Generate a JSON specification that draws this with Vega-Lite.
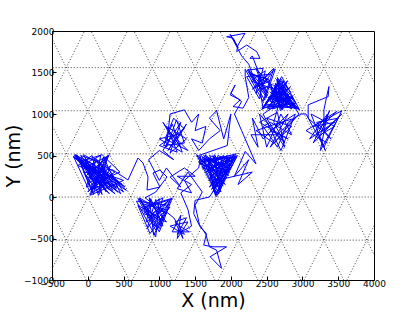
{
"$schema": "https://vega.github.io/schema/vega-lite/v6.json",
"width": 322, "height": 249,
"autosize": {"type": "none"},
"padding": {"left": 52, "top": 31, "right": 41, "bottom": 32},
"background": "white",
"config": {"view": {"stroke": "black", "strokeWidth": 1}, "font": "DejaVu Sans",
 "axis": {"grid": false, "domainColor": "black", "tickColor": "black", "labelColor": "black", "titleColor": "black", "labelFontSize": 9, "titleFontSize": 19, "titleFontWeight": "normal", "tickSize": -4, "labelPadding": 3, "labelFlush": false, "labelOverlap": false, "format": "d"}},
"datasets": {
"grid": [
{"g":"h-1","x":-700,"y":-519.6},{"g":"h-1","x":4200,"y":-519.6},
{"g":"h0","x":-700,"y":0},{"g":"h0","x":4200,"y":0},
{"g":"h1","x":-700,"y":519.6},{"g":"h1","x":4200,"y":519.6},
{"g":"h2","x":-700,"y":1039.2},{"g":"h2","x":4200,"y":1039.2},
{"g":"h3","x":-700,"y":1558.8},{"g":"h3","x":4200,"y":1558.8},
{"g":"p-2","x":-1835,"y":-1100},{"g":"p-2","x":12,"y":2100},
{"g":"p-1","x":-1235,"y":-1100},{"g":"p-1","x":612,"y":2100},
{"g":"p0","x":-635,"y":-1100},{"g":"p0","x":1212,"y":2100},
{"g":"p1","x":-35,"y":-1100},{"g":"p1","x":1812,"y":2100},
{"g":"p2","x":565,"y":-1100},{"g":"p2","x":2412,"y":2100},
{"g":"p3","x":1165,"y":-1100},{"g":"p3","x":3012,"y":2100},
{"g":"p4","x":1765,"y":-1100},{"g":"p4","x":3612,"y":2100},
{"g":"p5","x":2365,"y":-1100},{"g":"p5","x":4212,"y":2100},
{"g":"p6","x":2965,"y":-1100},{"g":"p6","x":4812,"y":2100},
{"g":"p7","x":3565,"y":-1100},{"g":"p7","x":5412,"y":2100},
{"g":"n-1","x":35,"y":-1100},{"g":"n-1","x":-1812,"y":2100},
{"g":"n0","x":635,"y":-1100},{"g":"n0","x":-1212,"y":2100},
{"g":"n1","x":1235,"y":-1100},{"g":"n1","x":-612,"y":2100},
{"g":"n2","x":1835,"y":-1100},{"g":"n2","x":-12,"y":2100},
{"g":"n3","x":2435,"y":-1100},{"g":"n3","x":588,"y":2100},
{"g":"n4","x":3035,"y":-1100},{"g":"n4","x":1188,"y":2100},
{"g":"n5","x":3635,"y":-1100},{"g":"n5","x":1788,"y":2100},
{"g":"n6","x":4235,"y":-1100},{"g":"n6","x":2388,"y":2100},
{"g":"n7","x":4835,"y":-1100},{"g":"n7","x":2988,"y":2100},
{"g":"n8","x":5435,"y":-1100},{"g":"n8","x":3588,"y":2100}
],
"traj": [
{"x":150,"y":300},{"x":-100,"y":480},{"x":120,"y":120},{"x":-50,"y":350},{"x":250,"y":480},{"x":60,"y":60},{"x":-150,"y":500},{"x":200,"y":200},{"x":300,"y":90},{"x":0,"y":420},{"x":180,"y":500},{"x":80,"y":30},{"x":-120,"y":460},{"x":350,"y":150},{"x":100,"y":380},{"x":-180,"y":510},{"x":230,"y":100},{"x":40,"y":250},{"x":280,"y":500},{"x":150,"y":50},{"x":-60,"y":300},{"x":320,"y":260},{"x":20,"y":80},{"x":-200,"y":490},{"x":400,"y":100},{"x":120,"y":460},{"x":10,"y":150},{"x":260,"y":380},{"x":500,"y":60},{"x":-80,"y":420},{"x":200,"y":30},{"x":60,"y":500},{"x":-140,"y":380},{"x":340,"y":200},{"x":80,"y":100},{"x":300,"y":510},{"x":-30,"y":250},{"x":420,"y":120},{"x":160,"y":420},{"x":-100,"y":500},{"x":250,"y":150},{"x":40,"y":40},{"x":180,"y":350},{"x":540,"y":80},{"x":-170,"y":470},{"x":300,"y":40},{"x":100,"y":250},{"x":-60,"y":510},{"x":380,"y":300},{"x":50,"y":120},{"x":220,"y":480},{"x":460,"y":40},{"x":0,"y":350},{"x":150,"y":100},{"x":280,"y":300},{"x":520,"y":120},
{"x":-190,"y":500},{"x":350,"y":80},{"x":100,"y":470},{"x":-20,"y":120},{"x":450,"y":300},{"x":200,"y":510},{"x":-120,"y":420},{"x":380,"y":40},{"x":120,"y":200},{"x":-160,"y":510},{"x":260,"y":60},{"x":60,"y":400},{"x":480,"y":150},{"x":-40,"y":460},{"x":150,"y":20},{"x":320,"y":380},{"x":0,"y":60},{"x":220,"y":250},{"x":-200,"y":480},{"x":420,"y":60},{"x":90,"y":330},{"x":270,"y":490},{"x":30,"y":20},{"x":500,"y":200},{"x":-90,"y":380},
{"x":352,"y":325},{"x":562,"y":205},{"x":702,"y":470},{"x":772,"y":410},{"x":842,"y":241},{"x":828,"y":84},{"x":1009,"y":120},{"x":911,"y":289},{"x":1009,"y":325},{"x":1107,"y":241},{"x":950,"y":60},{"x":800,"y":-10},
{"x":1100,"y":-200},{"x":700,"y":-20},{"x":950,"y":-400},{"x":1150,"y":-30},{"x":750,"y":-150},{"x":1050,"y":-350},{"x":880,"y":-20},{"x":820,"y":-300},{"x":1120,"y":-100},{"x":680,"y":-50},{"x":950,"y":-480},{"x":1000,"y":-20},{"x":780,"y":-200},{"x":1100,"y":-300},{"x":900,"y":-100},{"x":720,"y":-10},{"x":1000,"y":-420},{"x":1180,"y":-10},{"x":850,"y":-250},{"x":1080,"y":-150},{"x":760,"y":-80},{"x":930,"y":-350},{"x":1050,"y":-10},{"x":800,"y":-130},{"x":980,"y":-250},{"x":1150,"y":-120},{"x":870,"y":-440},{"x":700,"y":-100},{"x":1060,"y":-280},{"x":950,"y":-30},{"x":830,"y":-380},{"x":1120,"y":-50},{"x":900,"y":-200},
{"x":720,"y":-30},{"x":1000,"y":-380},{"x":1160,"y":-20},{"x":780,"y":-120},{"x":1040,"y":-320},{"x":860,"y":-10},{"x":920,"y":-460},{"x":1100,"y":-180},
{"x":1200,"y":-250},{"x":1350,"y":-450},{"x":1150,"y":-350},{"x":1400,"y":-300},{"x":1250,"y":-500},{"x":1300,"y":-220},{"x":1180,"y":-420},{"x":1420,"y":-420},{"x":1280,"y":-350},{"x":1330,"y":-500},{"x":1220,"y":-300},{"x":1380,"y":-250},{"x":1250,"y":-450},
{"x":1450,"y":-350},{"x":1400,"y":-150},{"x":1300,"y":50},{"x":1450,"y":150},{"x":1250,"y":250},{"x":1500,"y":250},{"x":1350,"y":350},{"x":1150,"y":240},{"x":1300,"y":120},{"x":1100,"y":350},{"x":1000,"y":200},{"x":850,"y":450},{"x":1000,"y":560},{"x":1200,"y":450},
{"x":1050,"y":560},{"x":1300,"y":900},{"x":1150,"y":530},{"x":1380,"y":700},{"x":1100,"y":850},{"x":1250,"y":540},{"x":1000,"y":620},{"x":1350,"y":820},{"x":1200,"y":950},{"x":1080,"y":700},{"x":1400,"y":560},{"x":1150,"y":780},{"x":1300,"y":600},{"x":1050,"y":900},{"x":1220,"y":650},{"x":1380,"y":880},{"x":1120,"y":560},{"x":1280,"y":760},{"x":1000,"y":700},{"x":1320,"y":540},{"x":1180,"y":880},{"x":1060,"y":620},{"x":1350,"y":650},{"x":1240,"y":930},{"x":1100,"y":600},
{"x":1150,"y":1000},{"x":1350,"y":1050},{"x":1450,"y":900},{"x":1550,"y":1000},{"x":1500,"y":800},{"x":1650,"y":850},{"x":1600,"y":650},{"x":1450,"y":700},{"x":1550,"y":560},{"x":1700,"y":700},{"x":1850,"y":800},{"x":1700,"y":950},{"x":1800,"y":1040},{"x":1900,"y":700},{"x":2000,"y":1000},{"x":1950,"y":620},
{"x":1550,"y":500},{"x":1800,"y":50},{"x":2050,"y":500},{"x":1650,"y":300},{"x":1950,"y":450},{"x":1700,"y":120},{"x":2000,"y":350},{"x":1600,"y":480},{"x":1850,"y":100},{"x":1750,"y":500},{"x":1900,"y":250},{"x":1550,"y":420},{"x":2080,"y":480},{"x":1780,"y":30},{"x":1680,"y":400},{"x":1980,"y":300},{"x":1620,"y":500},{"x":1880,"y":180},{"x":1720,"y":250},{"x":2030,"y":420},{"x":1820,"y":500},{"x":1700,"y":200},{"x":1950,"y":500},{"x":1600,"y":350},{"x":1850,"y":300},{"x":1760,"y":80},{"x":2000,"y":480},{"x":1660,"y":450},{"x":1920,"y":150},
{"x":1520,"y":510},{"x":1810,"y":20},{"x":2090,"y":500},{"x":1680,"y":330},{"x":1960,"y":480},{"x":1730,"y":90},{"x":2020,"y":380},{"x":1590,"y":460},{"x":1860,"y":60},{"x":1770,"y":510},{"x":1930,"y":280},{"x":1570,"y":400},{"x":2070,"y":520},{"x":1790,"y":10},{"x":1690,"y":420},{"x":1970,"y":260},{"x":1640,"y":510},{"x":1890,"y":130},{"x":1710,"y":300},{"x":2050,"y":460},
{"x":1700,"y":0},{"x":1500,"y":-40},{"x":1480,"y":-200},{"x":1570,"y":-360},{"x":1660,"y":-440},{"x":1620,"y":-580},{"x":1750,"y":-600},{"x":1940,"y":-600},{"x":1710,"y":-720},{"x":1870,"y":-860},{"x":1800,"y":-640},{"x":1700,"y":-600},{"x":1650,"y":-450},{"x":1560,"y":-330},{"x":1500,"y":-100},{"x":1600,"y":60},
{"x":1400,"y":300},{"x":1250,"y":100},{"x":1450,"y":50},{"x":1350,"y":200},{"x":1550,"y":350},
{"x":1580,"y":500},{"x":1800,"y":350},{"x":2060,"y":470},{"x":1740,"y":160},{"x":1900,"y":500},{"x":1640,"y":380},{"x":1830,"y":40},{"x":1990,"y":400},{"x":1700,"y":500},{"x":1870,"y":250},{"x":1560,"y":460},{"x":1780,"y":300},{"x":2040,"y":510},{"x":1820,"y":120},{"x":1680,"y":480},{"x":1950,"y":350},{"x":1750,"y":60},{"x":1900,"y":400},{"x":1620,"y":440},{"x":2000,"y":500},{"x":1800,"y":200},
{"x":2300,"y":300},{"x":2100,"y":150},{"x":2250,"y":450},{"x":2050,"y":250},{"x":2200,"y":550},{"x":2350,"y":400},
{"x":2150,"y":800},{"x":2050,"y":1000},{"x":2150,"y":1150},{"x":2000,"y":1250},{"x":2060,"y":1350},{"x":1990,"y":1230},{"x":2130,"y":1170},{"x":2030,"y":1090},{"x":2170,"y":1070},{"x":2250,"y":1200},{"x":2200,"y":1450},
{"x":2200,"y":1540},{"x":2450,"y":1150},{"x":2600,"y":1550},{"x":2300,"y":1300},{"x":2550,"y":1400},{"x":2250,"y":1500},{"x":2500,"y":1200},{"x":2350,"y":1550},{"x":2600,"y":1300},{"x":2280,"y":1400},{"x":2480,"y":1520},{"x":2400,"y":1180},{"x":2220,"y":1450},{"x":2560,"y":1480},{"x":2350,"y":1250},{"x":2450,"y":1550},
{"x":2230,"y":1530},{"x":2470,"y":1170},{"x":2620,"y":1540},{"x":2320,"y":1320},{"x":2530,"y":1420},{"x":2270,"y":1480},{"x":2510,"y":1220},{"x":2370,"y":1540},
{"x":2300,"y":1700},{"x":2267,"y":1671},{"x":2407,"y":1671},{"x":2361,"y":1751},{"x":2221,"y":1831},{"x":2081,"y":1751},{"x":2099,"y":1831},{"x":2197,"y":1972},{"x":1941,"y":1931},{"x":2034,"y":1912},{"x":2100,"y":1800},{"x":1990,"y":1960},{"x":2150,"y":1700},{"x":2250,"y":1600},
{"x":2300,"y":1480},{"x":2580,"y":1350},{"x":2420,"y":1300},{"x":2240,"y":1540},{"x":2520,"y":1250},{"x":2380,"y":1450},
{"x":2450,"y":1060},{"x":2700,"y":1400},{"x":2900,"y":1060},{"x":2600,"y":1250},{"x":2800,"y":1300},{"x":2500,"y":1080},{"x":2750,"y":1100},{"x":2650,"y":1380},{"x":2550,"y":1150},{"x":2850,"y":1200},{"x":2700,"y":1060},{"x":2600,"y":1350},{"x":2920,"y":1080},{"x":2480,"y":1120},{"x":2780,"y":1380},{"x":2680,"y":1200},{"x":2880,"y":1100},{"x":2560,"y":1300},{"x":2720,"y":1050},{"x":2640,"y":1420},{"x":2820,"y":1150},{"x":2520,"y":1200},{"x":2760,"y":1250},{"x":2900,"y":1150},{"x":2580,"y":1060},{"x":2700,"y":1320},{"x":2850,"y":1060},{"x":2620,"y":1180},{"x":2740,"y":1400},{"x":2500,"y":1150},
{"x":2430,"y":1050},{"x":2710,"y":1450},{"x":2960,"y":1050},{"x":2610,"y":1230},{"x":2830,"y":1320},{"x":2510,"y":1060},{"x":2770,"y":1120},{"x":2660,"y":1400},{"x":2570,"y":1130},{"x":2870,"y":1220},{"x":2690,"y":1040},{"x":2620,"y":1370},{"x":2940,"y":1070},{"x":2470,"y":1100},{"x":2790,"y":1400},{"x":2670,"y":1220},{"x":2890,"y":1120},{"x":2550,"y":1330},{"x":2730,"y":1060},{"x":2650,"y":1440},{"x":2810,"y":1170},{"x":2530,"y":1180},{"x":2750,"y":1270},{"x":2910,"y":1130},{"x":2590,"y":1080},
{"x":2450,"y":1000},{"x":2700,"y":560},{"x":2900,"y":1000},{"x":2550,"y":800},{"x":2800,"y":700},{"x":2400,"y":900},{"x":2650,"y":1020},{"x":2750,"y":600},{"x":2500,"y":950},{"x":2850,"y":850},{"x":2600,"y":650},{"x":2350,"y":800},{"x":2700,"y":900},{"x":2900,"y":950},{"x":2550,"y":600},{"x":2800,"y":1000},{"x":2450,"y":700},{"x":2300,"y":950},{"x":2380,"y":600},{"x":2280,"y":750},{"x":2650,"y":750},{"x":2950,"y":1000},
{"x":2800,"y":1220},{"x":2680,"y":1080},{"x":2600,"y":1280},{"x":2880,"y":1180},{"x":2720,"y":1350},{"x":2540,"y":1100},{"x":2800,"y":1080},{"x":2660,"y":1300},{"x":2950,"y":1060},{"x":2580,"y":1220},{"x":2760,"y":1160},{"x":2460,"y":1070},{"x":2700,"y":1420},{"x":2840,"y":1260},{"x":2620,"y":1100},{"x":2780,"y":1330},{"x":2550,"y":1260},{"x":2900,"y":1100},{"x":2650,"y":1150},{"x":2720,"y":1280},
{"x":2600,"y":900},{"x":2750,"y":650},{"x":2400,"y":1000},{"x":2500,"y":600},{"x":2700,"y":1000},{"x":2850,"y":750},{"x":2550,"y":900},{"x":2450,"y":850},{"x":2650,"y":600},{"x":2800,"y":900},{"x":2980,"y":1000},
{"x":3050,"y":1000},{"x":3300,"y":600},{"x":3550,"y":1040},{"x":3150,"y":850},{"x":3450,"y":900},{"x":3100,"y":700},{"x":3350,"y":1000},{"x":3250,"y":560},{"x":3500,"y":950},{"x":3200,"y":900},{"x":3400,"y":700},{"x":3080,"y":950},{"x":3080,"y":1110},{"x":3360,"y":1210},{"x":3370,"y":1330},{"x":3340,"y":1215},{"x":3300,"y":1050},{"x":3300,"y":800},{"x":3550,"y":1000},{"x":3150,"y":650},{"x":3380,"y":1040},{"x":3250,"y":750},{"x":3450,"y":850},{"x":3120,"y":1000},{"x":3320,"y":560},{"x":3200,"y":800},{"x":3480,"y":1030},{"x":3050,"y":800},{"x":3350,"y":650}
]
},
"layer": [
{"data": {"name": "grid"},
 "mark": {"type": "line", "clip": true, "color": "#444444", "strokeDash": [1, 2], "strokeWidth": 1},
 "encoding": {
  "x": {"field": "x", "type": "quantitative", "scale": {"domain": [-500, 4000], "nice": false, "zero": false}, "axis": {"title": "X (nm)", "values": [-500, 0, 500, 1000, 1500, 2000, 2500, 3000, 3500, 4000], "titlePadding": 3, "labelOverlap": false, "format": "d"}},
  "y": {"field": "y", "type": "quantitative", "scale": {"domain": [-1000, 2000], "nice": false, "zero": false}, "axis": {"title": "Y (nm)", "values": [-1000, -500, 0, 500, 1000, 1500, 2000], "titlePadding": 0, "labelPadding": 2, "labelOverlap": false, "format": "d"}},
  "detail": {"field": "g"},
  "order": {"value": null}
 }},
{"data": {"name": "traj"},
 "mark": {"type": "line", "clip": true, "color": "#0000ff", "strokeWidth": 1},
 "encoding": {
  "x": {"field": "x", "type": "quantitative", "axis": {"title": "X (nm)", "values": [-500, 0, 500, 1000, 1500, 2000, 2500, 3000, 3500, 4000], "titlePadding": 3, "labelOverlap": false, "format": "d"}},
  "y": {"field": "y", "type": "quantitative", "axis": {"title": "Y (nm)", "values": [-1000, -500, 0, 500, 1000, 1500, 2000], "titlePadding": 0, "labelPadding": 2, "labelOverlap": false, "format": "d"}},
  "order": {"value": null}
 }}
]
}
